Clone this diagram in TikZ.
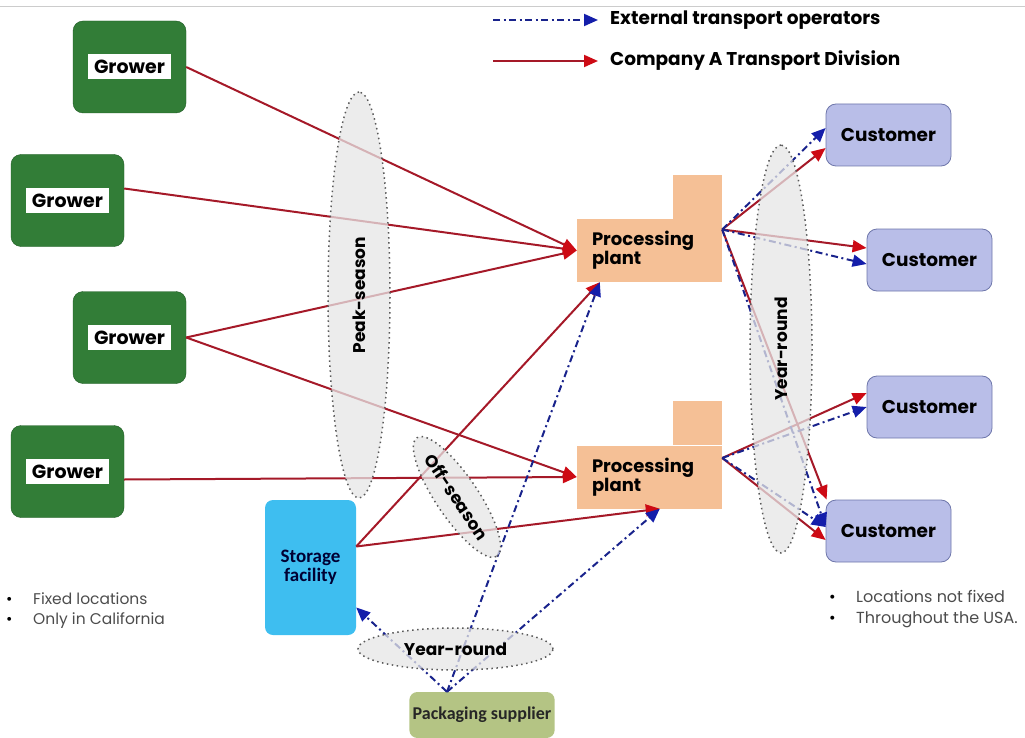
\documentclass[tikz,border=0pt]{standalone}
\usepackage{fontspec}
\setmainfont{Poppins}
\newfontfamily\calib{Carlito}
\usetikzlibrary{shapes.geometric,arrows.meta}

\newcommand{\fsz}[1]{\fontsize{#1}{#1}\selectfont}
\newcommand{\blt}{\makebox[27pt][l]{\textcolor{black}{\textbullet}}}

\definecolor{growgreen}{RGB}{50,125,55}
\definecolor{growedge}{RGB}{30,90,35}
\definecolor{plantpeach}{RGB}{245,192,150}
\definecolor{custfill}{RGB}{185,190,232}
\definecolor{custedge}{RGB}{110,118,170}
\definecolor{storecyan}{RGB}{62,190,240}
\definecolor{packolive}{RGB}{180,196,132}
\definecolor{compred}{RGB}{165,25,40}
\definecolor{tipred}{RGB}{205,10,20}
\definecolor{extblue}{RGB}{25,35,140}
\definecolor{tipblue}{RGB}{20,30,170}
\definecolor{seasongray}{RGB}{230,230,230}

\tikzset{
  grower/.style={rectangle, rounded corners=10pt, fill=growgreen, draw=growedge, minimum width=113pt, minimum height=92pt},
  growerlabel/.style={fill=white, inner sep=0pt, minimum width=83pt, minimum height=25pt, font=\fsz{19}\bfseries},
  plant/.style={fill=plantpeach, minimum width=145pt, minimum height=63pt, text width=115pt, inner xsep=15pt, align=left, font=\fsz{18}\bfseries},
  customer/.style={rounded corners=10pt, fill=custfill, draw=custedge, thick, minimum width=125pt, minimum height=62pt, font=\fsz{18.5}\bfseries},
  storage/.style={rounded corners=8pt, fill=storecyan, minimum width=91pt, minimum height=135pt, align=center, font=\calib\fsz{19}\bfseries, text=black!80!blue},
  packaging/.style={rounded corners=8pt, fill=packolive, minimum width=118pt, minimum height=46pt, font=\calib\fsz{18}\bfseries, text=black!85},
  season/.style={ellipse, draw=black!65, line width=1.5pt, dash pattern=on 1.5pt off 3.5pt, fill=seasongray, fill opacity=0.75, text opacity=1, inner sep=0pt, font=\fsz{17}\bfseries},
  company/.style={draw=compred, line width=2pt, -{Triangle[length=14pt,width=12pt,color=tipred]}},
  external/.style={draw=extblue, line width=2pt, dash pattern=on 7pt off 3.5pt on 2pt off 3.5pt, -{Triangle[length=14pt,width=12pt,color=tipblue]}},
  legendtext/.style={anchor=west, inner sep=0pt, font=\fsz{18.5}\bfseries},
  note/.style={anchor=north west, align=left, inner sep=0pt, text=black!70, font=\fsz{16}}
}

\begin{document}
\begin{tikzpicture}[x=1pt, y=-1pt]
 \useasboundingbox (0,0) rectangle (1025,738);
 \draw[black!20] (0,6) -- (1025,6);

 %growers
 \foreach \i/\x/\y in {1/129.5/67, 2/67.5/200.5, 3/129.5/337.5, 4/67.5/471.5} {
   \node[grower] (G\i) at (\x,\y) {};
   \node[growerlabel] (L\i) at (G\i) {Grower};
 }

 %plants
 \foreach \i/\y in {1/250.5, 2/477} {
   \node[plant] (P\i) at (649.5,\y) {Processing\\plant};
   \fill[plantpeach] ([xshift=-49pt]P\i.north east) rectangle ([yshift=44pt]P\i.north east);
 }

 %customers
 \foreach \i/\x/\y in {1/888.5/135, 2/929.5/260, 3/929.5/407, 4/888.5/531} {
   \node[customer] (C\i) at (\x,\y) {Customer};
 }

 \node[storage] (ST) at (310.5,567.5) {Storage\\facility};
 \node[packaging] (PK) at (482,715) {Packaging supplier};

 %company A
 \draw[company] (G1.east) -- (P1.west);
 \draw[company] ([yshift=12pt]G2.east) -- (P1.west);
 \draw[company] (G3.east) -- (P1.west);
 \draw[company] (G3.east) -- (P2.west);
 \draw[company] ([yshift=-8pt]G4.east) -- (P2.west);
 \draw[company] ([yshift=21pt]ST.east) -- ([xshift=23pt]P1.south west);
 \draw[company] ([yshift=21pt]ST.east) -- ([xshift=83pt]P2.south west);

 \coordinate (P1out) at ([yshift=21pt]P1.east);
 \coordinate (P2out) at ([yshift=19pt]P2.east);
 \draw[company] (P1out) -- ([yshift=-13pt]C1.west);
 \draw[company] (P1out) -- ([yshift=12pt]C2.west);
 \draw[company] (P1out) -- ([xshift=1pt]C4.north west);
 \draw[company] (P2out) -- ([yshift=14pt]C3.west);
 \draw[company] (P2out) -- ([yshift=-9pt]C4.west);

 %external
 \draw[external] ([xshift=-35pt]PK.north) -- ([xshift=23pt]P1.south west);
 \draw[external] ([xshift=-35pt]PK.north) -- ([xshift=83pt]P2.south west);
 \draw[external] ([xshift=-35pt]PK.north) -- ([yshift=-40pt]ST.east);
 \draw[external] (P1out) -- ([yshift=7pt]C1.west);
 \draw[external] (P1out) -- ([yshift=-4pt]C2.west);
 \draw[external] (P1out) -- ([yshift=4pt]C4.west);
 \draw[external] (P2out) -- (C3.west);
 \draw[external] (P2out) -- ([yshift=4pt]C4.west);

 %seasons
 \node[season, rotate=90, minimum width=406pt, minimum height=62pt] (PS) at (359,295) {Peak-season};
 \node[season, rotate=-56, minimum width=143pt, minimum height=42pt] (OS) at (457,497) {Off-season};
 \node[season, rotate=90, minimum width=408pt, minimum height=62pt] (YR1) at (781,349) {Year-round};
 \node[season, minimum width=195pt, minimum height=42pt] (YR2) at (455.5,649) {Year-round};

 %legend
 \coordinate (LB0) at (493,20);
 \coordinate (LB1) at (598,20);
 \coordinate (LR0) at (493,61);
 \coordinate (LR1) at (598,61);
 \draw[external] (LB0) -- (LB1);
 \draw[company] (LR0) -- (LR1);
 \node[legendtext] (LBt) at (610,20) {External transport operators};
 \node[legendtext] (LRt) at (610,61) {Company A Transport Division};

 %notes
 \node[note, font=\fsz{15.5}] (NL) at (6,592) {\blt Fixed locations\\[5pt]\blt Only in California};
 \node[note] (NR) at (829,590) {\blt Locations not fixed\\[5pt]\blt Throughout the USA.};

\end{tikzpicture}
\end{document}
